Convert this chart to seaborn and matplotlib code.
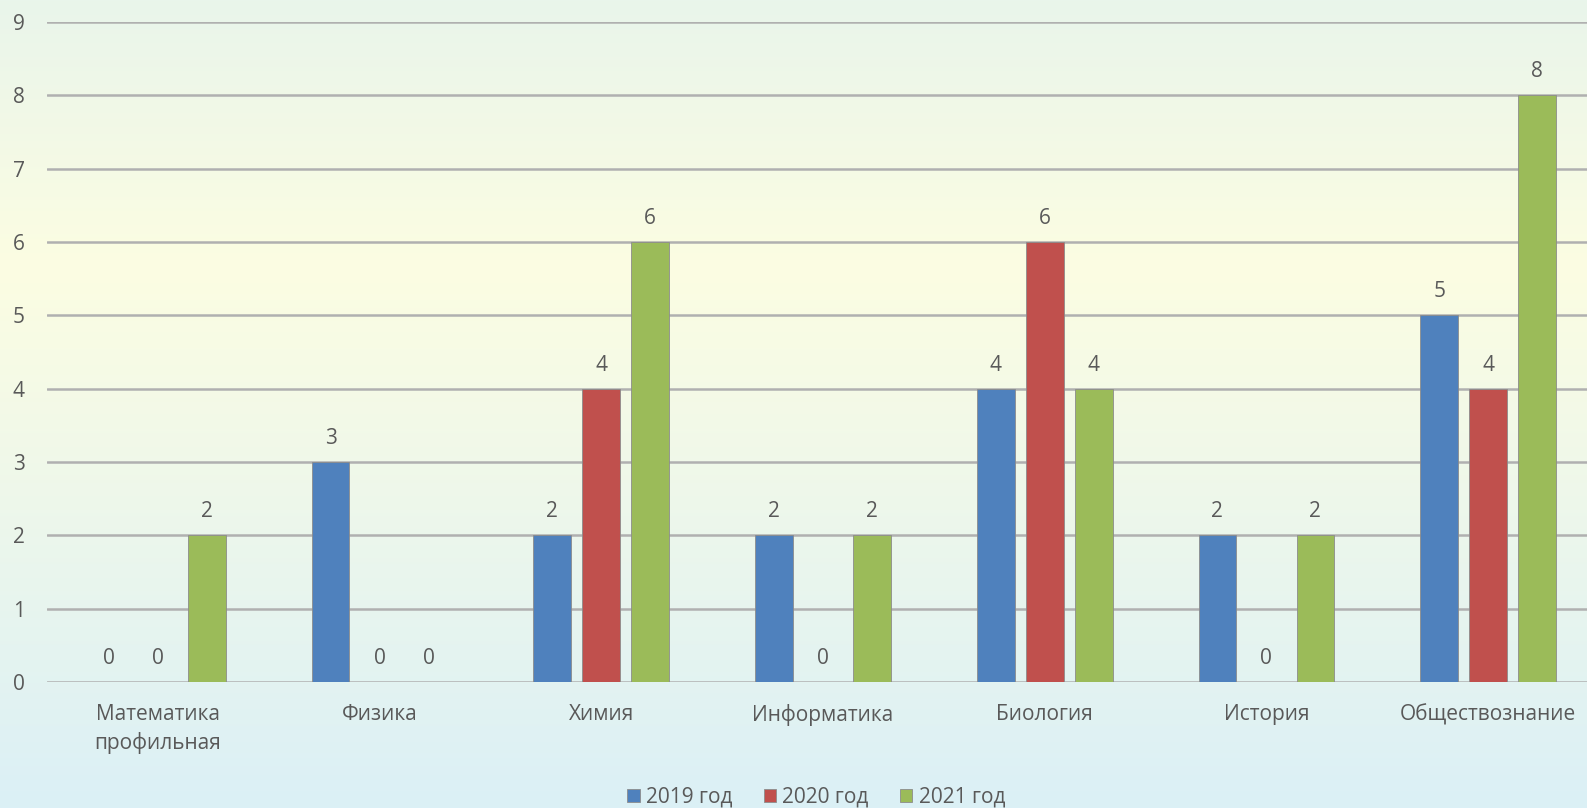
import matplotlib
matplotlib.use("Agg")
import matplotlib.pyplot as plt
import numpy as np
import pandas as pd
import seaborn as sns

subjects = ["Математика\nпрофильная", "Физика", "Химия", "Информатика",
            "Биология", "История", "Обществознание"]
years = ["2019 год", "2020 год", "2021 год"]
y2019 = [0, 3, 2, 2, 4, 2, 5]
y2020 = [0, 0, 4, 0, 6, 0, 4]
y2021 = [2, 0, 6, 2, 4, 2, 8]
colors = ["#4F81BD", "#C0504D", "#9BBB59"]

rows = []
for year, vals in zip(years, [y2019, y2020, y2021]):
    for subj, v in zip(subjects, vals):
        rows.append({"subject": subj, "year": year, "value": v})
df = pd.DataFrame(rows)

sns.set_style("white")
plt.rcParams["font.family"] = ["Open Sans", "DejaVu Sans"]
text_col = "#595959"
fs = 15

fig = plt.figure(figsize=(15.87, 8.08), dpi=100)

# background gradient: green top -> pale yellow -> light blue bottom
bg = fig.add_axes([0, 0, 1, 1], zorder=-5)
pos = np.linspace(0, 1, 808)
stops = [0.0, 0.33, 1.0]
r = np.interp(pos, stops, [233, 252, 219])
g = np.interp(pos, stops, [245, 253, 240])
b = np.interp(pos, stops, [235, 226, 246])
grad = np.stack([r, g, b], axis=1)[:, None, :] / 255.0
bg.imshow(grad, aspect="auto", extent=[0, 1, 0, 1])
bg.axis("off")

ax = fig.add_axes([47 / 1587, 1 - 682 / 808, (1599 - 47) / 1587, 660 / 808])
ax.set_facecolor("none")

sns.barplot(data=df, x="subject", y="value", hue="year", order=subjects,
            hue_order=years, palette=colors, saturation=1, width=0.663, gap=0.23,
            edgecolor="#8c8c8c", linewidth=0.6, ax=ax, zorder=3)

for cont in ax.containers:
    for bar in cont:
        h = bar.get_height()
        ax.annotate(f"{int(h)}", (bar.get_x() + bar.get_width() / 2, h),
                    xytext=(0, 17), textcoords="offset points",
                    ha="center", va="center", fontsize=fs, color=text_col,
                    zorder=5)

ax.set_ylim(0, 9)
ax.set_xlim(-0.5, 6.5)
ax.set_yticks(range(10))
ax.yaxis.grid(True, color="#B0B0B0", linewidth=1.8, zorder=0)
ax.set_axisbelow(True)
for s in ax.spines.values():
    s.set_visible(False)
ax.set_xlabel("")
ax.set_ylabel("")
ax.tick_params(axis="both", length=0, labelsize=fs, labelcolor=text_col)
ax.tick_params(axis="y", pad=16)
ax.tick_params(axis="x", pad=16)
for lbl in ax.get_xticklabels():
    lbl.set_linespacing(1.38)
    lbl.set_verticalalignment("top")

handles, labels = ax.get_legend_handles_labels()
ax.get_legend().remove()
fig.legend(handles, labels, loc="center", bbox_to_anchor=(816 / 1587, 1 - 797 / 808),
           ncol=3, frameon=False, fontsize=fs, handlelength=0.6, handleheight=0.6,
           handletextpad=0.3, columnspacing=1.5, labelcolor=text_col)

fig.savefig("out.png", dpi=100)
